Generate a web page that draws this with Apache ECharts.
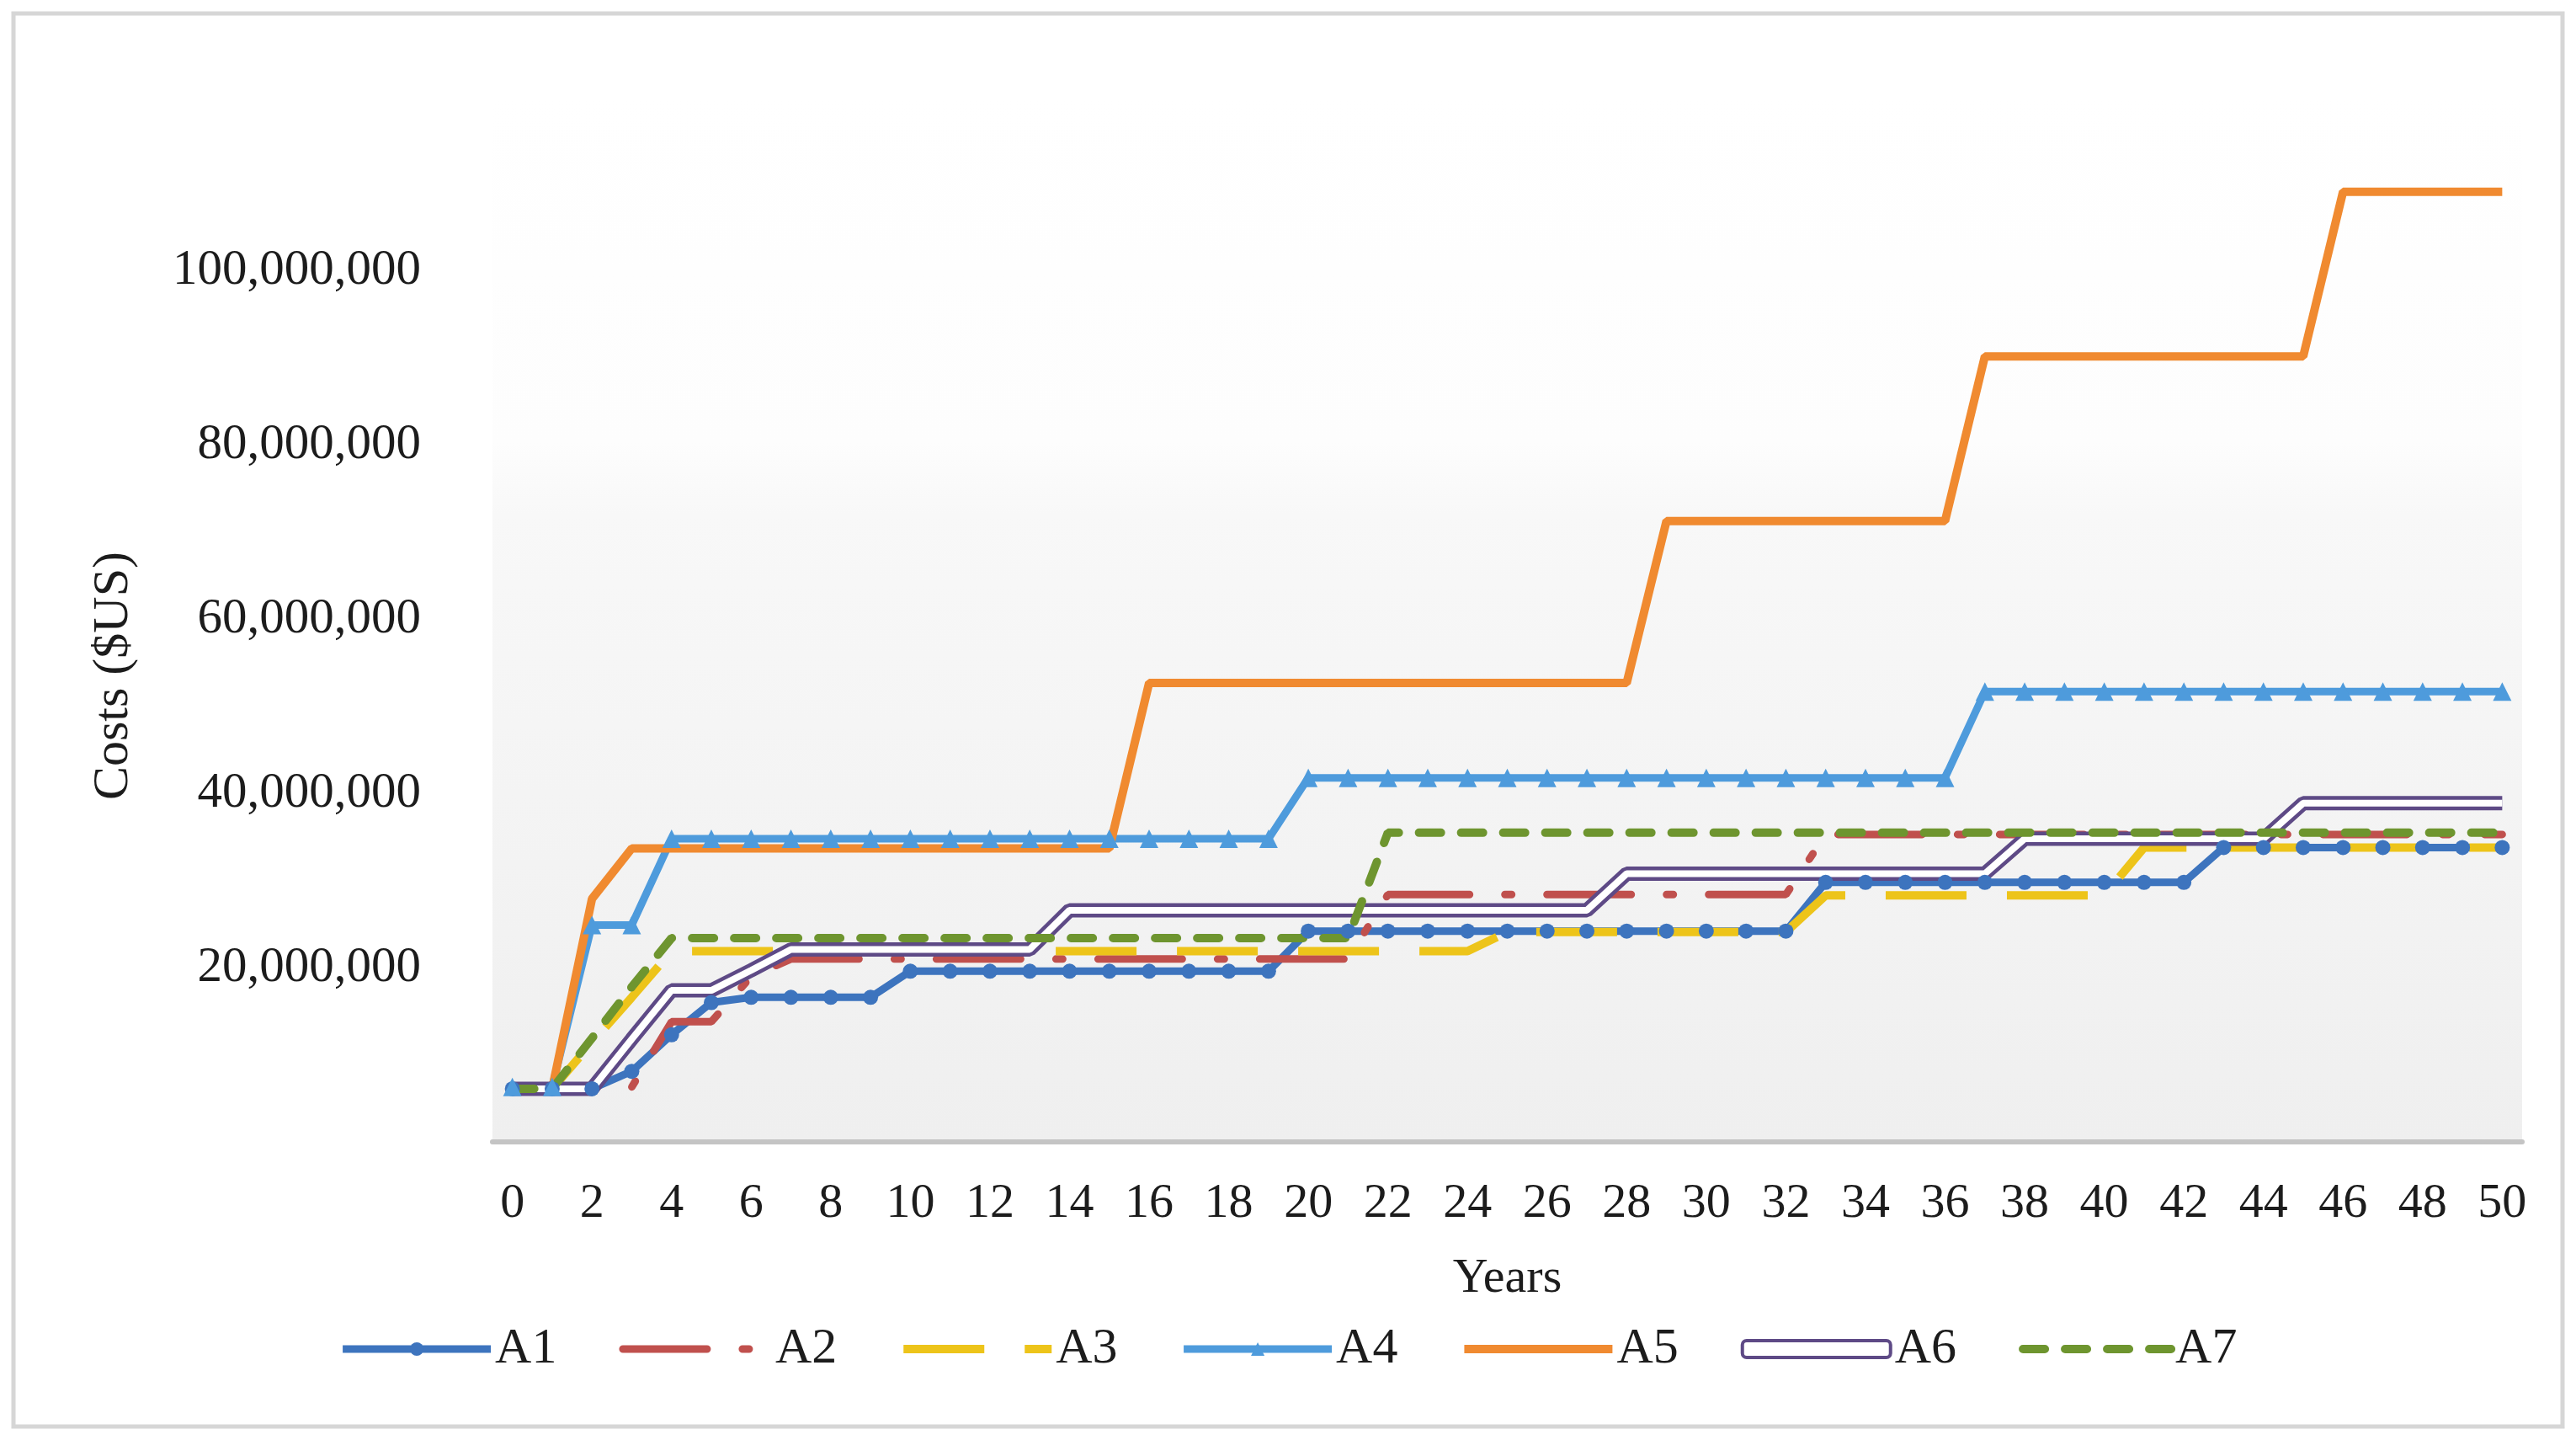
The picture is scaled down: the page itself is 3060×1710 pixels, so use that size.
<!DOCTYPE html>
<html>
<head>
<meta charset="utf-8">
<script src="https://cdn.jsdelivr.net/npm/echarts@6/dist/echarts.min.js"></script>
<style>
  html, body { margin: 0; padding: 0; background: #ffffff; }
  #chart { width: 3060px; height: 1710px; }
</style>
</head>
<body>
<div id="chart"></div>
<script>
// Years 0..50
const years = Array.from({length: 51}, (_, i) => String(i));

// Costs in millions of US dollars
const A1 = [6.1, 6.1, 6.1, 8.1, 12.3, 16.0, 16.6, 16.6, 16.6, 16.6,
  19.6, 19.6, 19.6, 19.6, 19.6, 19.6, 19.6, 19.6, 19.6, 19.6,
  24.2, 24.2, 24.2, 24.2, 24.2, 24.2, 24.2, 24.2, 24.2, 24.2, 24.2, 24.2, 24.2,
  29.8, 29.8, 29.8, 29.8, 29.8, 29.8, 29.8, 29.8, 29.8, 29.8,
  33.8, 33.8, 33.8, 33.8, 33.8, 33.8, 33.8, 33.8];
const A2 = [6.1, 6.1, 6.1, 6.3, 13.8, 13.8, 19.0,
  21.0, 21.0, 21.0, 21.0, 21.0, 21.0, 21.0, 21.0, 21.0, 21.0, 21.0, 21.0, 21.0, 21.0, 21.0,
  28.4, 28.4, 28.4, 28.4, 28.4, 28.4, 28.4, 28.4, 28.4, 28.4, 28.4,
  35.3, 35.3, 35.3, 35.3, 35.3, 35.3, 35.3, 35.3, 35.3, 35.3, 35.3, 35.3, 35.3, 35.3, 35.3, 35.3, 35.3, 35.3];
const A3 = [6.1, 6.1, 11.4, 16.6,
  21.9, 21.9, 21.9, 21.9, 21.9, 21.9, 21.9, 21.9, 21.9, 21.9, 21.9, 21.9, 21.9, 21.9, 21.9, 21.9, 21.9, 21.9, 21.9, 21.9, 21.9,
  24.1, 24.1, 24.1, 24.1, 24.1, 24.1, 24.1, 24.1,
  28.3, 28.3, 28.3, 28.3, 28.3, 28.3, 28.3, 28.3,
  33.8, 33.8, 33.8, 33.8, 33.8, 33.8, 33.8, 33.8, 33.8, 33.8];
const A4 = [6.3, 6.3, 24.9, 24.9,
  34.8, 34.8, 34.8, 34.8, 34.8, 34.8, 34.8, 34.8, 34.8, 34.8, 34.8, 34.8, 34.8, 34.8, 34.8, 34.8,
  41.8, 41.8, 41.8, 41.8, 41.8, 41.8, 41.8, 41.8, 41.8, 41.8, 41.8, 41.8, 41.8, 41.8, 41.8, 41.8, 41.8,
  51.7, 51.7, 51.7, 51.7, 51.7, 51.7, 51.7, 51.7, 51.7, 51.7, 51.7, 51.7, 51.7, 51.7];
const A5 = [6.1, 6.1, 27.9,
  33.7, 33.7, 33.7, 33.7, 33.7, 33.7, 33.7, 33.7, 33.7, 33.7, 33.7, 33.7, 33.7,
  52.7, 52.7, 52.7, 52.7, 52.7, 52.7, 52.7, 52.7, 52.7, 52.7, 52.7, 52.7, 52.7,
  71.3, 71.3, 71.3, 71.3, 71.3, 71.3, 71.3, 71.3,
  90.2, 90.2, 90.2, 90.2, 90.2, 90.2, 90.2, 90.2, 90.2,
  109.1, 109.1, 109.1, 109.1, 109.1];
const A6 = [6.1, 6.1, 6.1, 11.8, 17.4, 17.4, 19.7,
  22.1, 22.1, 22.1, 22.1, 22.1, 22.1, 22.1,
  26.6, 26.6, 26.6, 26.6, 26.6, 26.6, 26.6, 26.6, 26.6, 26.6, 26.6, 26.6, 26.6, 26.6,
  30.8, 30.8, 30.8, 30.8, 30.8, 30.8, 30.8, 30.8, 30.8, 30.8,
  34.8, 34.8, 34.8, 34.8, 34.8, 34.8, 34.8,
  38.9, 38.9, 38.9, 38.9, 38.9, 38.9];
const A7 = [6.1, 6.1, 11.9, 17.8,
  23.4, 23.4, 23.4, 23.4, 23.4, 23.4, 23.4, 23.4, 23.4, 23.4, 23.4, 23.4, 23.4, 23.4, 23.4, 23.4, 23.4, 23.4,
  35.5, 35.5, 35.5, 35.5, 35.5, 35.5, 35.5, 35.5, 35.5, 35.5, 35.5, 35.5, 35.5, 35.5, 35.5, 35.5, 35.5, 35.5,
  35.5, 35.5, 35.5, 35.5, 35.5, 35.5, 35.5, 35.5, 35.5, 35.5, 35.5];

// y-axis tick labels (millions 20..100); 0 and 120 carry no label
const yTickLabels = ['20,000,000', '40,000,000', '60,000,000', '80,000,000', '100,000,000'];

const FONT = '"Liberation Serif", "Times New Roman", serif';
const TXT = '#1c1c1c';

const C1 = '#3D74BE', C2 = '#C0504D', C3 = '#EDC41A', C4 = '#4E9BDC',
      C5 = '#F08A30', C6 = '#5E4A86', C7 = '#6E952F';

const chart = echarts.init(document.getElementById('chart'), null, {renderer: 'canvas'});

const hidden = {opacity: 0};

chart.setOption({
  animation: false,
  backgroundColor: '#ffffff',
  graphic: [{
    type: 'rect',
    shape: {x: 16, y: 16, width: 3028, height: 1678},
    style: {fill: 'none', stroke: '#d6d6d6', lineWidth: 5},
    z: -1
  }],
  grid: {
    left: 585, right: 64, top: 115, bottom: 354,
    show: true,
    borderWidth: 0,
    backgroundColor: new echarts.graphic.LinearGradient(0, 0, 0, 1, [
      {offset: 0, color: '#ffffff'},
      {offset: 0.33, color: '#fdfdfd'},
      {offset: 0.40, color: '#f8f8f8'},
      {offset: 1, color: '#efefef'}
    ])
  },
  legend: {
    data: [
      {name: 'A1', lineStyle: {width: 9}},
      {name: 'A2', lineStyle: {width: 9}, itemStyle: hidden},
      {name: 'A3', lineStyle: {width: 10}, itemStyle: hidden},
      {name: 'A4', lineStyle: {width: 9}},
      {name: 'A5', lineStyle: {width: 10}, itemStyle: hidden},
      {name: 'A6', icon: 'roundRect', itemStyle: {color: '#ffffff', borderColor: C6, borderWidth: 4}},
      {name: 'A7', lineStyle: {width: 10}, itemStyle: hidden}
    ],
    left: 'center',
    top: 1567,
    itemWidth: 176,
    itemHeight: 20,
    itemGap: 74,
    textStyle: {fontFamily: FONT, fontSize: 60, color: TXT}
  },
  xAxis: {
    type: 'category',
    data: years,
    boundaryGap: true,
    name: 'Years',
    nameLocation: 'middle',
    nameGap: 134,
    nameTextStyle: {fontFamily: FONT, fontSize: 58, color: TXT},
    axisLine: {show: true, lineStyle: {color: '#c4c4c4', width: 6}},
    axisTick: {show: false},
    axisLabel: {interval: 1, fontFamily: FONT, fontSize: 58, color: TXT, margin: 45},
    splitLine: {show: false}
  },
  yAxis: {
    type: 'value',
    min: 0, max: 120, interval: 20,
    name: 'Costs ($US)',
    nameLocation: 'middle',
    nameGap: 420,
    nameTextStyle: {fontFamily: FONT, fontSize: 60, color: TXT, padding: [0, 134, 0, 0]},
    axisLine: {show: false},
    axisTick: {show: false},
    splitLine: {show: false},
    axisLabel: {
      fontFamily: FONT, fontSize: 59, color: TXT, margin: 85,
      formatter: function (v) {
        const idx = Math.round(v / 20) - 1;
        return (idx >= 0 && idx < yTickLabels.length) ? yTickLabels[idx] : '';
      }
    }
  },
  series: [
    {
      name: 'A1', type: 'line', data: A1, symbol: 'circle', symbolSize: 18, showSymbol: true,
      lineStyle: {color: C1, width: 9},
      itemStyle: {color: C1}
    },
    {
      name: 'A2', type: 'line', data: A2, symbol: 'none',
      lineStyle: {color: C2, width: 9, type: [100, 42, 8, 42], cap: 'round'},
      itemStyle: {color: C2}
    },
    {
      name: 'A3', type: 'line', data: A3, symbol: 'none',
      lineStyle: {color: C3, width: 10, type: [96, 48], cap: 'butt'},
      itemStyle: {color: C3}
    },
    {
      name: 'A4', type: 'line', data: A4, symbol: 'triangle', symbolSize: 22, showSymbol: true,
      lineStyle: {color: C4, width: 9},
      itemStyle: {color: C4}
    },
    {
      name: 'A5', type: 'line', data: A5, symbol: 'none',
      lineStyle: {color: C5, width: 10},
      itemStyle: {color: C5}
    },
    {
      name: 'A6', type: 'line', data: A6, symbol: 'none',
      lineStyle: {color: C6, width: 17},
      itemStyle: {color: C6}
    },
    {
      name: 'A6 inner', type: 'line', data: A6, symbol: 'none', silent: true,
      lineStyle: {color: '#ffffff', width: 8},
      itemStyle: {color: '#ffffff'}
    },
    {
      name: 'A7', type: 'line', data: A7, symbol: 'none',
      lineStyle: {color: C7, width: 10, type: [26, 24], cap: 'round'},
      itemStyle: {color: C7}
    }
  ]
});
</script>
</body>
</html>
